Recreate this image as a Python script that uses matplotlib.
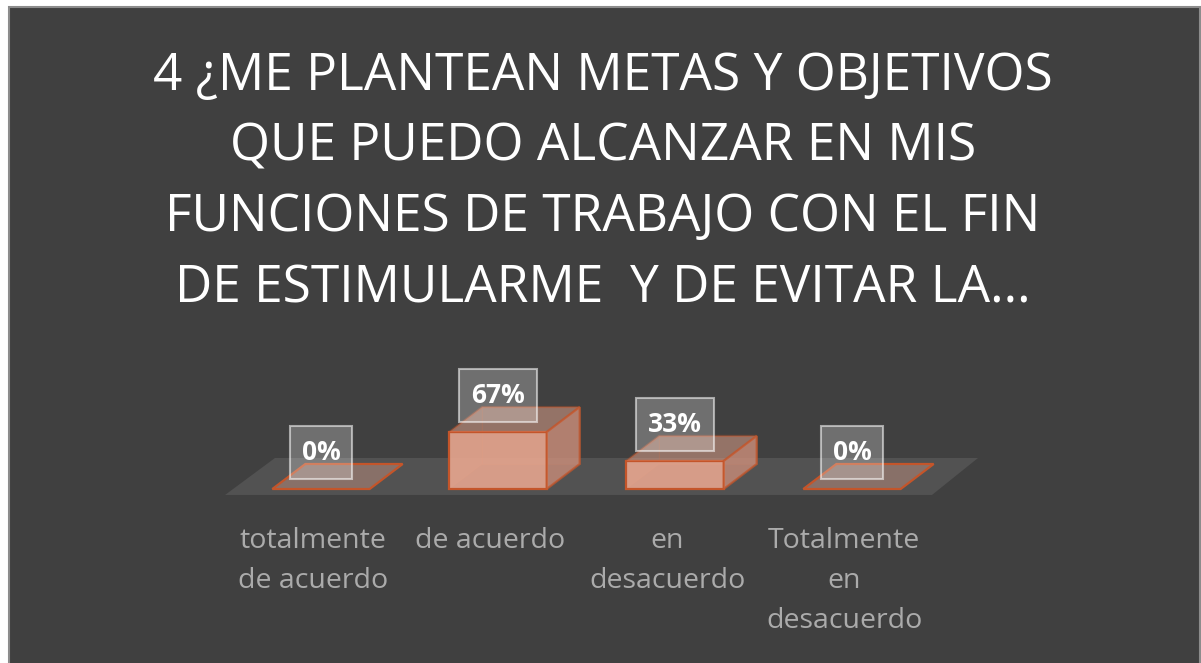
import matplotlib
matplotlib.use('Agg')
import matplotlib.pyplot as plt
from matplotlib.patches import Polygon, Rectangle
import matplotlib.transforms as mtransforms

# ---- data ----
title_lines = ["4 ¿ME PLANTEAN METAS Y OBJETIVOS",
               "QUE PUEDO ALCANZAR EN MIS",
               "FUNCIONES DE TRABAJO CON EL FIN",
               "DE ESTIMULARME  Y DE EVITAR LA..."]
categories = ["totalmente\nde acuerdo", "de acuerdo", "en\ndesacuerdo",
              "Totalmente\nen\ndesacuerdo"]
values = [0, 67, 33, 0]
value_labels = ["0%", "67%", "33%", "0%"]

FONT = "Open Sans"
W, H = 1201, 663
fig = plt.figure(figsize=(W / 100, H / 100), dpi=100)
fig.patch.set_facecolor('white')
fig.add_artist(Rectangle((8.5 / W, -0.01), 1191 / W, 656.5 / H + 0.01,
                         transform=fig.transFigure, facecolor='#404040',
                         edgecolor='#8c8c8c', lw=1.5, zorder=0))

# ---- axes placement (pixel geometry) ----
px_x, px_v, x0px, y0px = 177.0, 0.85, 321.0, 489.0
xlim, ylim = (-0.7, 3.8), (-15, 150)
left = (x0px + px_x * xlim[0]) / W
right = (x0px + px_x * xlim[1]) / W
top_px = y0px - px_v * ylim[1]
bot_px = y0px - px_v * ylim[0]
ax = fig.add_axes([left, 1 - bot_px / H, right - left, (bot_px - top_px) / H])
ax.set_xlim(xlim)
ax.set_ylim(ylim)
ax.axis('off')
ax.patch.set_alpha(0)

# floor
floor = Polygon([(-0.542, -7), (3.452, -7), (3.712, 36.5), (-0.26, 36.5)],
                closed=True, facecolor='#525252', edgecolor='none', zorder=1)
ax.add_patch(floor)

dx, dy = 33 / px_x, 25 / px_v
w = 0.55
edge = '#c4552a'
base = '#eeaa92'
for i, v in enumerate(values):
    xl, xr = i - w / 2, i + w / 2
    if v == 0:
        ax.add_patch(Polygon([(xl, 0), (xr, 0), (xr + dx, dy), (xl + dx, dy)],
                             closed=True, facecolor=base, alpha=0.35,
                             edgecolor='none', zorder=2))
        ax.add_patch(Polygon([(xl, 0), (xr, 0), (xr + dx, dy), (xl + dx, dy)],
                             closed=True, facecolor='none', edgecolor=edge,
                             lw=1.6, zorder=3))
    else:
        for poly in ([(xl + dx, dy), (xr + dx, dy), (xr + dx, v + dy), (xl + dx, v + dy)],
                     [(xl, 0), (xl + dx, dy), (xl + dx, v + dy), (xl, v)]):
            ax.add_patch(Polygon(poly, closed=True, facecolor=base, alpha=0.15,
                                 edgecolor=edge, lw=0.8, zorder=2))
        ax.bar(i, v, width=w, bottom=0, color=base, alpha=0.85, edgecolor='none',
               zorder=3)
        ax.bar(i, v, width=w, bottom=0, color='none', edgecolor=edge, lw=1.6,
               zorder=4)
        ax.add_patch(Polygon([(xl, v), (xr, v), (xr + dx, v + dy), (xl + dx, v + dy)],
                             closed=True, facecolor=base, alpha=0.4,
                             edgecolor=edge, lw=1.6, zorder=4))
        ax.add_patch(Polygon([(xr, 0), (xr + dx, dy), (xr + dx, v + dy), (xr, v)],
                             closed=True, facecolor='#d0907c', alpha=0.75,
                             edgecolor=edge, lw=1.6, zorder=4))

# value labels with boxes
texts = []
for i, v in enumerate(values):
    t = ax.annotate(value_labels[i], xy=(i, v), xytext=(0, 26.5),
                    textcoords='offset points', ha='center', va='center',
                    color='white', fontsize=19, fontweight='bold', family=FONT,
                    zorder=7, annotation_clip=False)
    texts.append(t)
fig.canvas.draw()
renderer = fig.canvas.get_renderer()
for i, v in enumerate(values):
    bb = texts[i].get_window_extent(renderer)
    cx = (bb.x0 + bb.x1) / 2
    px, py = ax.transData.transform((i, v))
    bw = bb.width + 24
    bh = 53
    fig.add_artist(Rectangle((cx - bw / 2, py + 10), bw, bh,
                             transform=mtransforms.IdentityTransform(),
                             facecolor=(1, 1, 1, 0.25), edgecolor=(1, 1, 1, 0.55),
                             lw=1.5, zorder=6))

# category labels
trans = mtransforms.blended_transform_factory(ax.transData, fig.transFigure)
for i, lab in enumerate(categories):
    for k, line in enumerate(lab.split('\n')):
        ax.text(i - 0.045, 1 - (548 + 40 * k) / H, line, transform=trans,
                ha='center', va='baseline', color='#ababab', fontsize=20.5,
                family=FONT, clip_on=False)

# title
for k, line in enumerate(title_lines):
    fig.text(603 / W, 1 - (90 + 70.7 * k) / H, line, ha='center', va='baseline',
             color='white', fontsize=37, family=FONT)

fig.savefig('out.png', dpi=100)
